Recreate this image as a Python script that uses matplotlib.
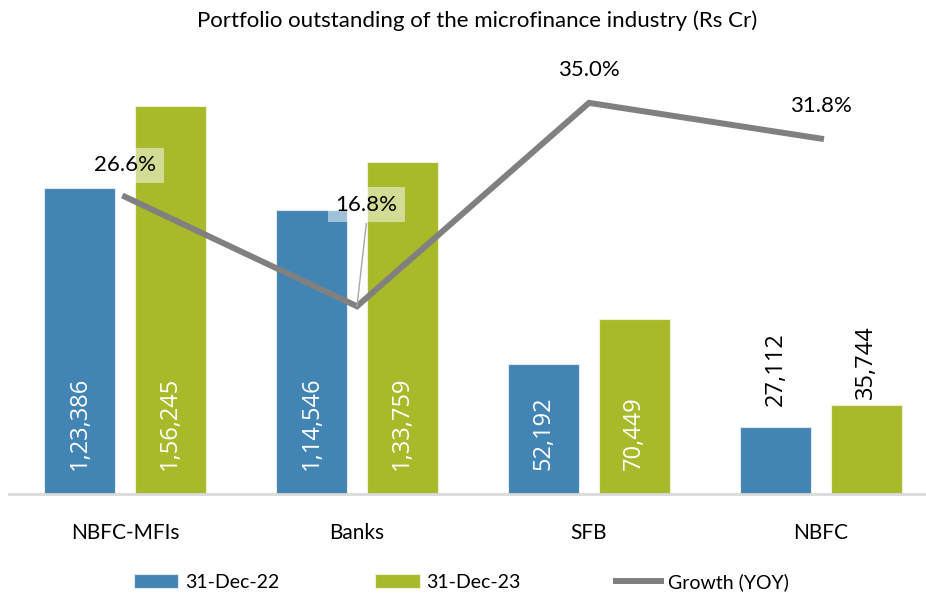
import matplotlib
matplotlib.use("Agg")
import matplotlib.pyplot as plt
import numpy as np

plt.rcParams['font.family'] = ['Lato', 'DejaVu Sans']

categories = ["NBFC-MFIs", "Banks", "SFB", "NBFC"]
dec22 = [123386, 114546, 52192, 27112]
dec23 = [156245, 133759, 70449, 35744]
growth = [26.6, 16.8, 35.0, 31.8]
labels22 = ["1,23,386", "1,14,546", "52,192", "27,112"]
labels23 = ["1,56,245", "1,33,759", "70,449", "35,744"]

blue = "#4285B4"
green = "#A8B92A"
grey = "#808080"
num_font = ["Open Sans", "DejaVu Sans"]

fig = plt.figure(figsize=(9.26, 5.98), dpi=100)
ax = fig.add_axes([9 / 926, 104 / 598, 928 / 926, 447 / 598])
x = np.arange(len(categories))
w = 0.306
off = 0.194

ax.bar(x - off, dec22, w, color=blue, edgecolor="#dfe9f1", linewidth=0.8, label="31-Dec-22")
ax.bar(x + off, dec23, w, color=green, edgecolor="#eef2d2", linewidth=0.8, label="31-Dec-23")
ax.set_xlim(-0.5, 3.5)
ax.set_ylim(0, 180000)
ax.set_yticks([])
for s in ["top", "right", "left"]:
    ax.spines[s].set_visible(False)
ax.spines["bottom"].set_color("#d9d9d9")
ax.spines["bottom"].set_linewidth(2)
ax.set_xticks(x)
ax.set_xticklabels(categories, fontsize=15)
ax.tick_params(axis="x", length=0, pad=21)

# value labels
for i in range(len(categories)):
    if dec22[i] > 40000:
        ax.text(x[i] - off, 9700, labels22[i], rotation=90, ha="center", va="bottom",
                color="white", fontsize=17, family=num_font)
        ax.text(x[i] + off, 9700, labels23[i], rotation=90, ha="center", va="bottom",
                color="white", fontsize=17, family=num_font)
    else:
        ax.text(x[i] - off, dec22[i] + 8500, labels22[i], rotation=90, ha="center", va="bottom",
                color="black", fontsize=17, family=num_font)
        ax.text(x[i] + off, dec23[i] + 2500, labels23[i], rotation=90, ha="center", va="bottom",
                color="black", fontsize=17, family=num_font)

ax2 = ax.twinx()
ax2.set_ylim(0, 40)
ax2.set_yticks([])
for s in ax2.spines.values():
    s.set_visible(False)
ax2.plot(x, growth, color=grey, linewidth=4.3, solid_joinstyle="miter", label="Growth (YOY)")

box = dict(boxstyle="square,pad=0.35", facecolor="white", edgecolor="none", alpha=0.5)
pct_pos = [(x[0], 29.4), (x[1] + 0.04, 25.9), (x[2], 37.9), (x[3], 34.7)]
for i, g in enumerate(growth):
    px, py = pct_pos[i]
    ax2.text(px, py, f"{g:.1f}%", ha="center", va="center", fontsize=16, bbox=box if i < 2 else None)
ax2.plot([x[1], x[1] + 0.04], [growth[1], 24.2], color="#a6a6a6", linewidth=1)

fig.suptitle("Portfolio outstanding of the microfinance industry (Rs Cr)", y=0.983, fontsize=16, x=0.515)

h1, l1 = ax.get_legend_handles_labels()
h2, l2 = ax2.get_legend_handles_labels()
fig.legend(h1 + h2, l1 + l2, loc="center", bbox_to_anchor=(0.498, 0.027), ncol=3, frameon=False,
           fontsize=14, handlelength=2.3, handleheight=0.77, handletextpad=0.36, columnspacing=4.9)

fig.savefig("out.png", dpi=100)
